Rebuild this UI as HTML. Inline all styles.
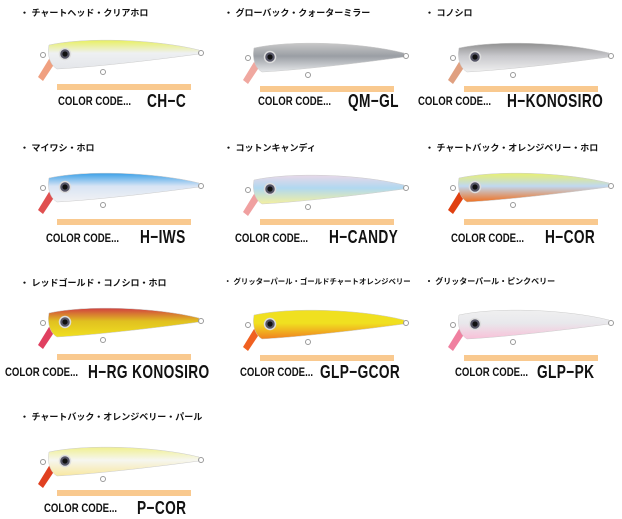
<!DOCTYPE html>
<html><head><meta charset="utf-8"><style>
body{margin:0;width:622px;height:519px;background:#fff;position:relative;overflow:hidden;font-family:"Liberation Sans","Noto Sans CJK JP",sans-serif}
.t{position:absolute;font-size:9px;font-weight:bold;color:#111;white-space:nowrap}
.b{position:absolute;height:6px;background:#f9c98f;width:134px}
.c{position:absolute;font-weight:bold;color:#111;white-space:nowrap;transform-origin:left center}
.c1{font-size:12px;transform:scaleX(.8)}.c2{font-size:18.5px;letter-spacing:.5px;transform:scaleX(.74)}
svg{position:absolute}
</style></head><body>
<div class="t" style="left:20px;top:6px">・ チャートヘッド・クリアホロ</div>
<div class="t" style="left:224px;top:6px">・ グローバック・クォーターミラー</div>
<div class="t" style="left:425px;top:6px">・ コノシロ</div>
<div class="t" style="left:20px;top:141px">・ マイワシ・ホロ</div>
<div class="t" style="left:224px;top:141px">・ コットンキャンディ</div>
<div class="t" style="left:425px;top:141px">・ チャートバック・オレンジベリー・ホロ</div>
<div class="t" style="left:20px;top:276px">・ レッドゴールド・コノシロ・ホロ</div>
<div class="t" style="left:224px;top:276px;font-size:7.4px">・ グリッターパール・ゴールドチャートオレンジベリー</div>
<div class="t" style="left:425px;top:276px;font-size:8px">・ グリッターパール・ピンクベリー</div>
<div class="t" style="left:20px;top:410px">・ チャートバック・オレンジベリー・パール</div>

<div class="b" style="left:57px;top:84px"></div>
<div class="b" style="left:260px;top:86px"></div>
<div class="b" style="left:464px;top:86px"></div>
<div class="b" style="left:57px;top:219px"></div>
<div class="b" style="left:260px;top:219px"></div>
<div class="b" style="left:464px;top:219px"></div>
<div class="b" style="left:57px;top:354px"></div>
<div class="b" style="left:260px;top:355px"></div>
<div class="b" style="left:464px;top:355px"></div>
<div class="b" style="left:57px;top:490px"></div>

<div class="c c1" style="left:58px;top:94px">COLOR CODE...</div><div class="c c2" style="left:147px;top:90px">CH−C</div>
<div class="c c1" style="left:258px;top:94px">COLOR CODE...</div><div class="c c2" style="left:348px;top:90px">QM−GL</div>
<div class="c c1" style="left:418px;top:94px">COLOR CODE...</div><div class="c c2" style="left:507px;top:90px">H−KONOSIRO</div>
<div class="c c1" style="left:46px;top:231px">COLOR CODE...</div><div class="c c2" style="left:140px;top:226px">H−IWS</div>
<div class="c c1" style="left:235px;top:231px">COLOR CODE...</div><div class="c c2" style="left:329px;top:226px">H−CANDY</div>
<div class="c c1" style="left:451px;top:231px">COLOR CODE...</div><div class="c c2" style="left:545px;top:226px">H−COR</div>
<div class="c c1" style="left:5px;top:365px">COLOR CODE...</div><div class="c c2" style="left:88px;top:361px">H−RG KONOSIRO</div>
<div class="c c1" style="left:240px;top:365px">COLOR CODE...</div><div class="c c2" style="left:320px;top:361px">GLP−GCOR</div>
<div class="c c1" style="left:455px;top:365px">COLOR CODE...</div><div class="c c2" style="left:537px;top:361px">GLP−PK</div>
<div class="c c1" style="left:44px;top:501px">COLOR CODE...</div><div class="c c2" style="left:137px;top:497px">P−COR</div>

<div id="L"></div>
<script>
var lures=[
[35,25,'#e8f060','#eef0f2','#e4e6ea','#f0a080'],
[240,28,'#c8c8c8','#9a9ea4','#e6e8ea','#f0a8a0'],
[445,28,'#909090','#c8c8cc','#f0f0f0','#e0a080'],
[35,158,'#3aa0e8','#d8e4f4','#f2f2f4','#e05050'],
[240,160,'#e8d8e8','#b0d8f0','#f4f0a0','#f0a0a0'],
[445,158,'#e8f070','#c0d8f0','#f07020','#e04010'],
[35,293,'#d04040','#e0c020','#f0e020','#e04060'],
[240,295,'#f0e020','#f0e020','#f08020','#f06020'],
[445,295,'#f0f0f0','#e8e8ec','#f8c0d8','#f080a0'],
[35,432,'#f0f090','#f6f6f0','#f8e8a0','#e04020']];
var h='';
lures.forEach(function(l,i){
var g='g'+i;
h+='<svg style="left:'+l[0]+'px;top:'+l[1]+'px" width="170" height="60" viewBox="0 0 170 60">'+
'<defs><linearGradient id="'+g+'" x1="0" y1="0" x2="0" y2="1"><stop offset="0" stop-color="'+l[2]+'"/><stop offset=".45" stop-color="'+l[3]+'"/><stop offset="1" stop-color="'+l[4]+'"/></linearGradient></defs>'+
'<path d="M14,34 L20,38 L8,56 L3,52Z" fill="'+l[5]+'"/>'+
'<path d="M14,20 C50,12 120,14 164,25 L164,29 C120,35 60,42 22,44 C15,40 12,30 14,20Z" fill="url(#'+g+')" stroke="#ccc" stroke-width=".5"/>'+
'<circle cx="8" cy="30" r="2.5" fill="none" stroke="#999" stroke-width="1"/>'+
'<circle cx="166" cy="28" r="2.5" fill="none" stroke="#999" stroke-width="1"/>'+
'<circle cx="68" cy="47" r="2.5" fill="none" stroke="#999" stroke-width="1"/>'+
'<circle cx="30" cy="29" r="5.5" fill="#556" stroke="#ddd" stroke-width="1.5"/><circle cx="30" cy="29" r="2.6" fill="#111"/></svg>';
});
document.getElementById('L').innerHTML=h;
</script>
</body></html>
